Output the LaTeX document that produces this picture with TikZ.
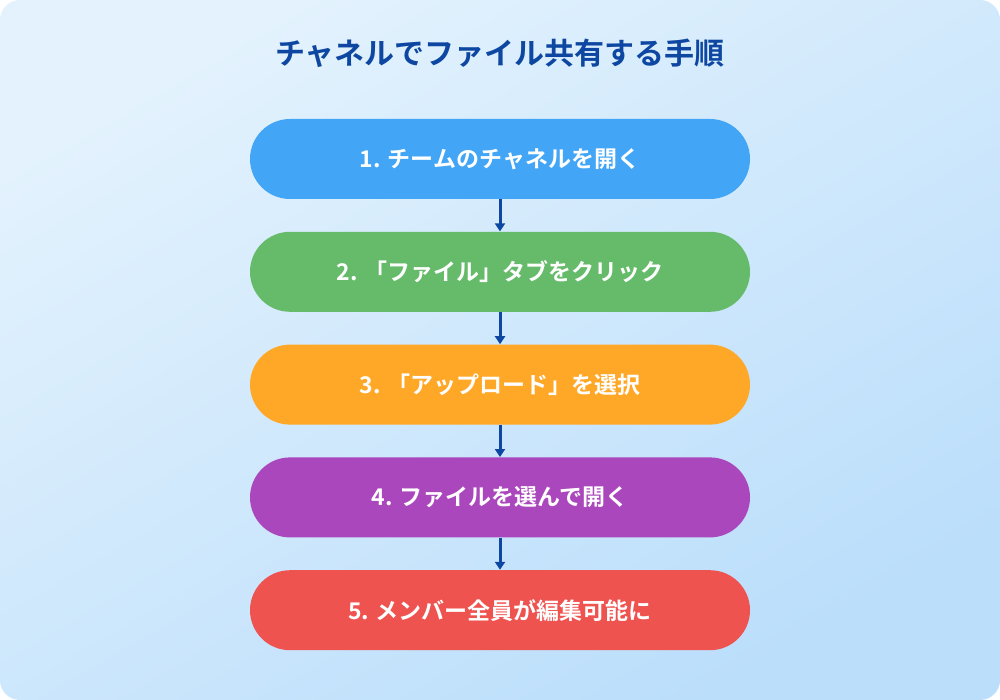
\documentclass[tikz,border=0pt]{standalone}
\usepackage{fontspec}
\setmainfont{Noto Sans CJK JP}[BoldFont={* Bold}]
\usetikzlibrary{arrows.meta, positioning}
\definecolor{bgtop}{HTML}{E3F2FD}
\definecolor{bgbot}{HTML}{BBDEFB}
\definecolor{navy}{HTML}{0D47A1}
\definecolor{cblue}{HTML}{42A5F5}
\definecolor{cgreen}{HTML}{66BB6A}
\definecolor{corange}{HTML}{FFA726}
\definecolor{cpurple}{HTML}{AB47BC}
\definecolor{cred}{HTML}{EF5350}
\begin{document}
\begin{tikzpicture}[
  x=0.5pt, y=-0.5pt,
  stepbox/.style={rounded corners=20pt, minimum width=250pt, minimum height=40pt,
    text=white, font=\bfseries\fontsize{11.5}{13}\selectfont, inner sep=0pt},
  arr/.style={-{Triangle[length=4pt,width=5pt]}, navy, line width=1.5pt},
  node distance=16pt
]
\useasboundingbox (0,0) rectangle (1000,700);
\shade[top color=bgtop, bottom color=bgbot, shading angle=30, rounded corners=10pt] (0,0) rectangle (1000,700);
\node[text=navy, font=\bfseries\fontsize{15}{17}\selectfont] (title) at (500,53) {チャネルでファイル共有する手順};
\node[stepbox, fill=cblue] (s1) at (500,159) {1. チームのチャネルを開く};
\node[stepbox, fill=cgreen, below=of s1] (s2) {2. 「ファイル」タブをクリック};
\node[stepbox, fill=corange, below=of s2] (s3) {3. 「アップロード」を選択};
\node[stepbox, fill=cpurple, below=of s3] (s4) {4. ファイルを選んで開く};
\node[stepbox, fill=cred, below=of s4] (s5) {5. メンバー全員が編集可能に};
\draw[arr] (s1) -- (s2);
\draw[arr] (s2) -- (s3);
\draw[arr] (s3) -- (s4);
\draw[arr] (s4) -- (s5);
\end{tikzpicture}
\end{document}
